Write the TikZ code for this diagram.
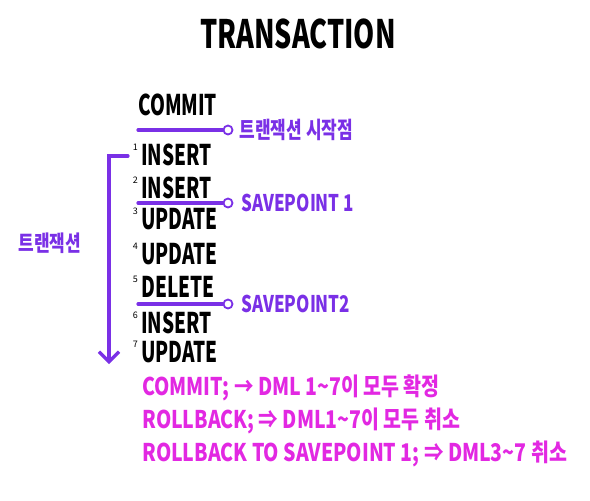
\documentclass[tikz,border=0pt]{standalone}
\usepackage{fontspec}
\setmainfont{Noto Sans CJK KR}
\usepackage{tikz}
\usetikzlibrary{arrows.meta,positioning}
\definecolor{penviolet}{RGB}{122,48,230}
\definecolor{penmagenta}{RGB}{226,40,226}

\begin{document}
\begin{tikzpicture}[x=1pt, y=-1pt,
    stmt/.style={anchor=west, inner sep=0pt, font=\fontsize{19}{19}\selectfont\bfseries, yscale=1.5, transform shape},
    stepnum/.style={inner sep=0pt, font=\fontsize{9}{9}\selectfont},
    penline/.style={penviolet, line width=3.2pt, line cap=round},
    ring/.style={circle, draw=penviolet, fill=white, line width=1.8pt, minimum size=9pt, inner sep=0pt},
    spnote/.style={anchor=west, inner sep=0pt, text=penviolet, font=\fontsize{17}{17}\selectfont\bfseries, yscale=1.35, transform shape},
    outcome/.style={anchor=west, inner sep=0pt, text=penmagenta, font=\fontsize{19.5}{19.5}\selectfont\bfseries, yscale=1.25, transform shape}]
    \useasboundingbox (0,0) rectangle (590,501);
    % Título
    \node[inner sep=0pt, font=\fontsize{27}{27}\selectfont\bfseries, yscale=1.45, transform shape] (title) at (298,34) {TRANSACTION};
    % Ponto de início
    \node[stmt] (commit) at (138,105) {COMMIT};
    \coordinate (u0) at (138,130);
    \node[ring] (c0) at (228,130) {};
    \draw[penline] (u0) -- (c0);
    \node[spnote, right=6pt of c0] (start) {트랜잭션 시작점};
    % Comandos DML
    \node[stmt] (i1) at (141,155) {INSERT};
    \node[stmt] (i2) at (141,188) {INSERT};
    \node[stmt] (i3) at (141,219) {UPDATE};
    \node[stmt] (i4) at (141,254) {UPDATE};
    \node[stmt] (i5) at (141,287) {DELETE};
    \node[stmt] (i6) at (141,323) {INSERT};
    \node[stmt] (i7) at (141,352) {UPDATE};
    \node[stepnum, anchor=north east] (n1) at ([xshift=-3pt]i1.north west) {1};
    \node[stepnum, anchor=north east] (n2) at ([xshift=-3pt]i2.north west) {2};
    \node[stepnum, anchor=north east] (n3) at ([xshift=-3pt]i3.north west) {3};
    \node[stepnum, anchor=north east] (n4) at ([xshift=-3pt]i4.north west) {4};
    \node[stepnum, anchor=north east] (n5) at ([xshift=-3pt]i5.north west) {5};
    \node[stepnum, anchor=north east] (n6) at ([xshift=-3pt]i6.north west) {6};
    \node[stepnum, anchor=north east] (n7) at ([xshift=-3pt]i7.north west) {7};
    % Savepoints
    \coordinate (u1) at (138,203);
    \node[ring] (c1) at (228,203) {};
    \draw[penline] (u1) -- (c1);
    \node[spnote, right=8pt of c1] (sp1) {SAVEPOINT 1};
    \coordinate (u2) at (138,304);
    \node[ring] (c2) at (228,304) {};
    \draw[penline] (u2) -- (c2);
    \node[spnote, right=8pt of c2] (sp2) {SAVEPOINT2};
    % Chave da transação
    \coordinate (brtop) at (128,156);
    \coordinate (brend) at (109,364);
    \draw[penline, -{Straight Barb[length=10pt, width=20pt, line width=3.2pt]}] (brtop) -| (brend);
    \node[inner sep=0pt, text=penviolet, font=\fontsize{17}{17}\selectfont\bfseries, yscale=1.3, transform shape] (txn) at (50,243) {트랜잭션};
    % Resultados
    \node[outcome] (r1) at (142,388) {COMMIT; → DML 1\textasciitilde7이 모두 확정};
    \node[outcome] (r2) at (142,421) {ROLLBACK; ⇒ DML1\textasciitilde7이 모두 취소};
    \node[outcome] (r3) at (142,454) {ROLLBACK TO SAVEPOINT 1; ⇒ DML3\textasciitilde7 취소};
\end{tikzpicture}
\end{document}
